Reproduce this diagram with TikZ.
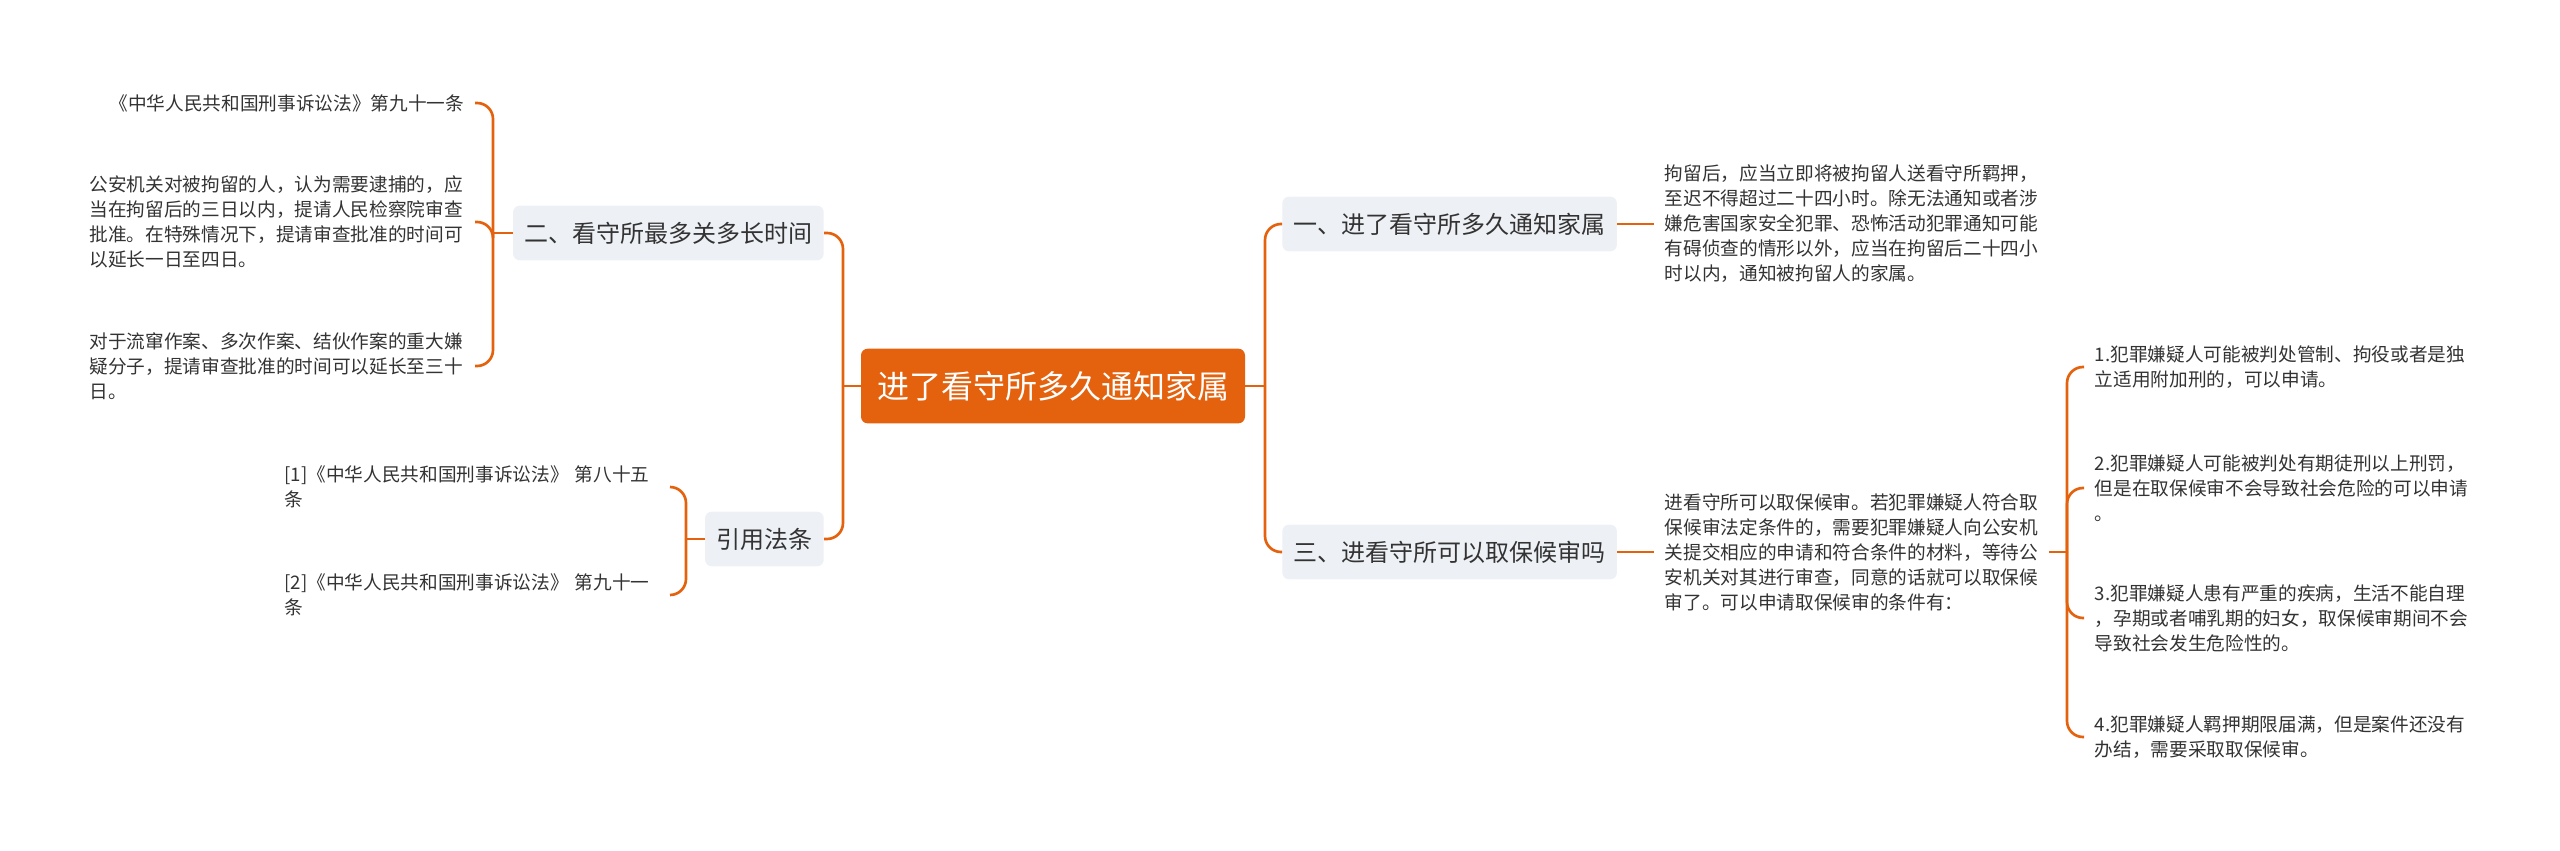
\documentclass[tikz,border=0pt]{standalone}
\usepackage{fontspec}
\setmainfont{Noto Sans CJK SC}
\usepackage{tikz}
\definecolor{mmorange}{RGB}{228,98,14}
\definecolor{mmgray}{RGB}{237,240,244}
\definecolor{mmtext}{RGB}{51,51,51}
\newcommand{\elbow}[2]{\draw[link] (#1) |- (#2);}

\begin{document}
\begin{tikzpicture}[x=0.75pt,y=-0.75pt,
    link/.style={draw=mmorange,line width=2pt,rounded corners=12pt},
    rootbox/.style={fill=mmorange,text=white,rounded corners=5pt,
      font=\fontsize{24}{28}\selectfont,inner xsep=12pt,minimum height=56pt},
    topicbox/.style={fill=mmgray,text=mmtext,rounded corners=5pt,
      font=\fontsize{18}{22}\selectfont,inner xsep=8.5pt,minimum height=41pt},
    leaf/.style={text=mmtext,align=left,font=\fontsize{14}{18.75}\selectfont,
      inner xsep=8pt,inner ysep=0pt},
    leafw/.style={leaf,text width=281pt}]
  \useasboundingbox (0,0) rectangle (2560,850);

  % centre and the four topics
  \node[rootbox] (root) at (1053,386) {进了看守所多久通知家属};
  \node[topicbox,anchor=west] (b1) at (1282,224) {一、进了看守所多久通知家属};
  \node[topicbox,anchor=west] (b3) at (1282,552) {三、进看守所可以取保候审吗};
  \node[topicbox,anchor=east] (b2) at (824,233) {二、看守所最多关多长时间};
  \node[topicbox,anchor=east] (b4) at (824,539) {引用法条};

  \coordinate (rj) at (1265,386);
  \coordinate (lj) at (843,386);
  \coordinate (b2j) at (493,233);
  \coordinate (b4j) at (686,539);
  \coordinate (l3j) at (2067,552);

  % left side leaves
  \node[leaf,anchor=east] (la) at (475,103) {《中华人民共和国刑事诉讼法》第九十一条};
  \node[leafw,anchor=east] (lb) at (475,222)
    {公安机关对被拘留的人，认为需要逮捕的，应\\当在拘留后的三日以内，提请人民检察院审查\\
     批准。在特殊情况下，提请审查批准的时间可\\以延长一日至四日。};
  \node[leafw,anchor=east] (lc) at (475,366)
    {对于流窜作案、多次作案、结伙作案的重大嫌\\疑分子，提请审查批准的时间可以延长至三十\\日。};
  \node[leafw,anchor=east] (ld) at (670,487)
    {[1]《中华人民共和国刑事诉讼法》 第八十五\\条};
  \node[leafw,anchor=east] (le) at (670,595)
    {[2]《中华人民共和国刑事诉讼法》 第九十一\\条};

  % right side leaves
  \node[leaf,anchor=west] (l1) at (1654,224)
    {拘留后，应当立即将被拘留人送看守所羁押，\\至迟不得超过二十四小时。除无法通知或者涉\\
     嫌危害国家安全犯罪、恐怖活动犯罪通知可能\\有碍侦查的情形以外，应当在拘留后二十四小\\
     时以内，通知被拘留人的家属。};
  \node[leaf,anchor=west] (l3) at (1654,552)
    {进看守所可以取保候审。若犯罪嫌疑人符合取\\保候审法定条件的，需要犯罪嫌疑人向公安机\\
     关提交相应的申请和符合条件的材料，等待公\\安机关对其进行审查，同意的话就可以取保候\\
     审了。可以申请取保候审的条件有：};
  \node[leafw,anchor=west] (r1) at (2084,367)
    {1.犯罪嫌疑人可能被判处管制、拘役或者是独\\立适用附加刑的，可以申请。};
  \node[leafw,anchor=west] (r2) at (2084,488)
    {2.犯罪嫌疑人可能被判处有期徒刑以上刑罚，\\但是在取保候审不会导致社会危险的可以申请\\。};
  \node[leafw,anchor=west] (r3) at (2084,618)
    {3.犯罪嫌疑人患有严重的疾病，生活不能自理\\，孕期或者哺乳期的妇女，取保候审期间不会\\导致社会发生危险性的。};
  \node[leafw,anchor=west] (r4) at (2084,737)
    {4.犯罪嫌疑人羁押期限届满，但是案件还没有\\办结，需要采取取保候审。};

  % connectors
  \draw[link] (root.east) -- (rj);
  \elbow{rj}{b1.west}
  \elbow{rj}{b3.west}
  \draw[link] (root.west) -- (lj);
  \elbow{lj}{b2.east}
  \elbow{lj}{b4.east}
  \draw[link] (b2.west) -- (b2j);
  \elbow{b2j}{la.east}
  \elbow{b2j}{lb.east}
  \elbow{b2j}{lc.east}
  \draw[link] (b4.west) -- (b4j);
  \elbow{b4j}{ld.east}
  \elbow{b4j}{le.east}
  \draw[link] (b1.east) -- (l1.west);
  \draw[link] (b3.east) -- (l3.west);
  \draw[link] (l3.east) -- (l3j);
  \foreach \r in {r1,r2,r3,r4}
    {\elbow{l3j}{\r.west}}
\end{tikzpicture}
\end{document}
